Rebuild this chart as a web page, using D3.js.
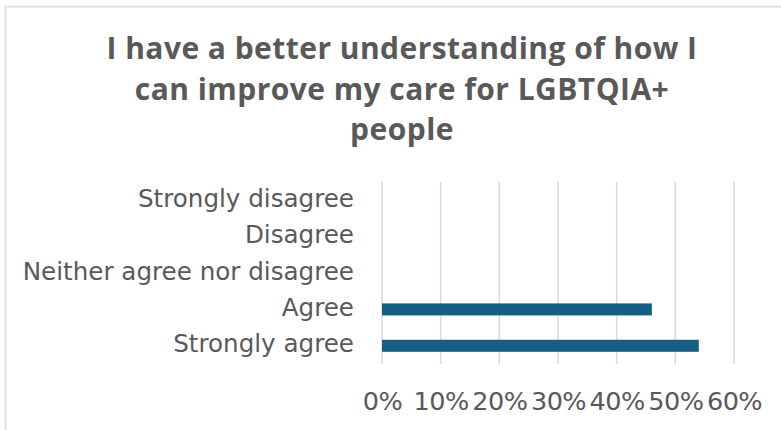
<!DOCTYPE html>
<html>
<head>
<meta charset="utf-8">
<script src="https://cdn.jsdelivr.net/npm/d3@7"></script>
<style>
  html, body { margin: 0; padding: 0; background: #ffffff; }
  svg { display: block; }
</style>
</head>
<body>
<div id="chart"></div>
<script>
// Survey responses, top to bottom as listed on the chart
const categories = ["Strongly disagree", "Disagree", "Neither agree nor disagree", "Agree", "Strongly agree"];
const shares = [0, 0, 0, 0.46, 0.54];
const tickValues = [0, 0.1, 0.2, 0.3, 0.4, 0.5, 0.6];
const titleLines = ["I have a better understanding of how I", "can improve my care for LGBTQIA+", "people"];

const W = 781, H = 430;
const plot = { left: 382, right: 734, top: 182, bottom: 364 };
const textColor = "#595959";
const titleFont = "'Open Sans', 'Noto Sans', sans-serif";
const labelFont = "'DejaVu Sans', sans-serif";

const svg = d3.select("#chart").append("svg")
  .attr("width", W).attr("height", H);

// chart frame
svg.append("path")
  .attr("d", `M5.5,${H} V6.5 H${W}`)
  .attr("fill", "none")
  .attr("stroke", "#e1e1e1")
  .attr("stroke-width", 2);

// title
svg.append("g")
  .selectAll("text")
  .data(titleLines)
  .join("text")
  .attr("x", 402)
  .attr("y", (d, i) => 59 + i * 40.5)
  .attr("text-anchor", "middle")
  .attr("font-family", titleFont)
  .attr("font-weight", 700)
  .attr("font-size", 30)
  .attr("letter-spacing", 0.45)
  .attr("fill", textColor)
  .text(d => d);

const x = d3.scaleLinear().domain([0, 0.6]).range([plot.left, plot.right]);
const y = d3.scaleBand().domain(categories).range([plot.top, plot.bottom]).paddingInner(0.67).paddingOuter(0.335);

// vertical gridlines
svg.append("g")
  .selectAll("line")
  .data(tickValues)
  .join("line")
  .attr("x1", d => x(d)).attr("x2", d => x(d))
  .attr("y1", plot.top).attr("y2", plot.bottom)
  .attr("stroke", "#d9d9d9")
  .attr("stroke-width", 1.5);

// x axis labels
const xAxis = d3.axisBottom(x)
  .tickValues(tickValues)
  .tickFormat(d3.format(".0%"))
  .tickSize(0)
  .tickPadding(0);
const gx = svg.append("g")
  .attr("transform", `translate(0,${plot.bottom + 28})`)
  .call(xAxis);
gx.select(".domain").remove();
gx.selectAll("text")
  .attr("font-family", labelFont)
  .attr("font-size", 25.5)
  .attr("letter-spacing", -0.5)
  .attr("fill", textColor);

// category labels
const yAxis = d3.axisLeft(y).tickSize(0).tickPadding(0);
const gy = svg.append("g")
  .attr("transform", `translate(${plot.left - 28},0)`)
  .call(yAxis);
gy.select(".domain").remove();
gy.selectAll("text")
  .attr("font-family", labelFont)
  .attr("font-size", 24.6)
  .attr("dy", "0.27em")
  .attr("fill", textColor);

// bars
svg.append("g")
  .selectAll("rect")
  .data(categories.map((c, i) => ({ c, v: shares[i] })).filter(d => d.v > 0))
  .join("rect")
  .attr("x", x(0))
  .attr("y", d => y(d.c))
  .attr("width", d => x(d.v) - x(0))
  .attr("height", y.bandwidth())
  .attr("fill", "#156082");
</script>
</body>
</html>
